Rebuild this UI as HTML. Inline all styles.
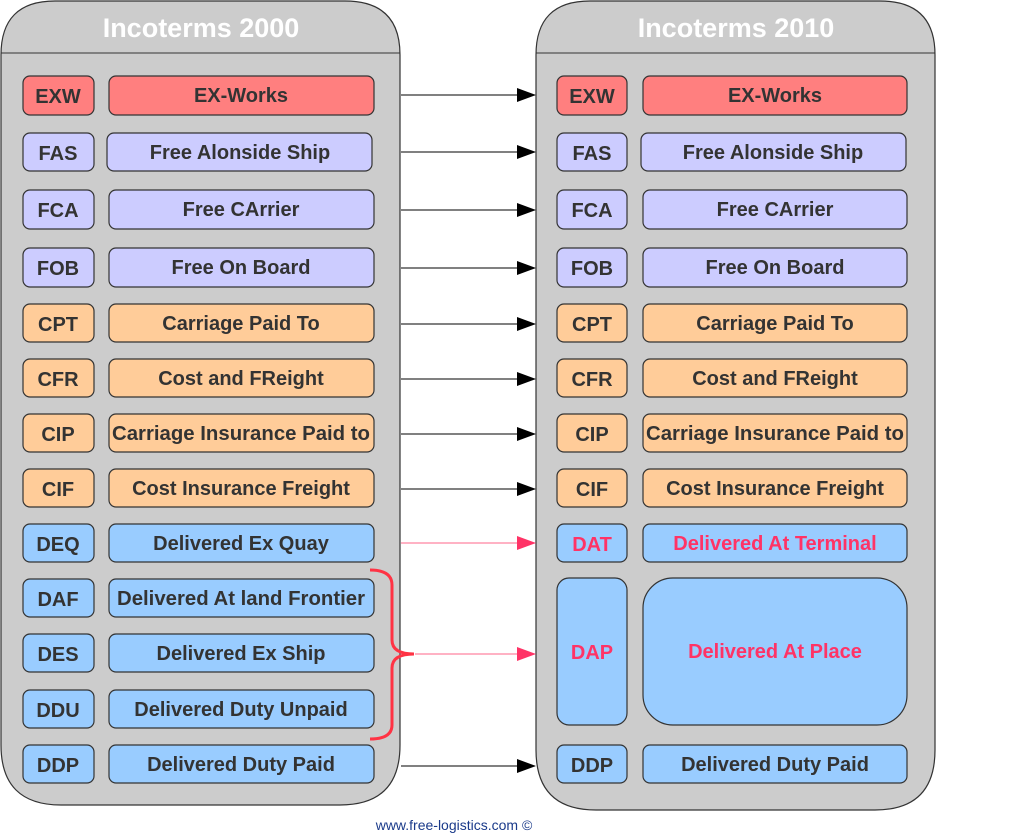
<!DOCTYPE html>
<html><head><meta charset="utf-8"><style>
html,body{margin:0;padding:0;background:#fff;}
svg{display:block}
text{font-family:"Liberation Sans",Arial,sans-serif;font-weight:bold;}
</style></head><body>
<svg width="1024" height="840" viewBox="0 0 1024 840" xmlns="http://www.w3.org/2000/svg">
<defs>
<marker id="ab" markerWidth="20" markerHeight="14" refX="18" refY="7" orient="auto" markerUnits="userSpaceOnUse"><path d="M0,0 L19,7 L0,14 z" fill="#000"/></marker>
<marker id="ap" markerWidth="20" markerHeight="14" refX="18" refY="7" orient="auto" markerUnits="userSpaceOnUse"><path d="M0,0 L19,7 L0,14 z" fill="#ff3366"/></marker>
</defs>
<g stroke="#333" stroke-width="1.2" fill="#cccccc">
<path d="M1,745 L1,55 Q1,1 55,1 L345,1 Q400,1 400,55 L400,745 Q400,805 340,805 L61,805 Q1,805 1,745 Z"/>
<path d="M536,750 L536,55 Q536,1 590,1 L880,1 Q935,1 935,55 L935,750 Q935,810 875,810 L596,810 Q536,810 536,750 Z"/>
</g>
<line x1="1" y1="53" x2="400" y2="53" stroke="#333" stroke-width="1"/>
<line x1="536" y1="53" x2="935" y2="53" stroke="#333" stroke-width="1"/>
<text x="201" y="37" font-size="27" fill="#fff" text-anchor="middle">Incoterms 2000</text>
<text x="736" y="37" font-size="27" fill="#fff" text-anchor="middle">Incoterms 2010</text>

<g stroke="#333" stroke-width="1.2">
<rect x="23" y="76" width="71" height="39" rx="7" fill="#ff7f7f"/><rect x="109" y="76" width="265" height="39" rx="7" fill="#ff7f7f"/>
<rect x="23" y="133" width="71" height="38" rx="7" fill="#ccccff"/><rect x="107" y="133" width="265" height="38" rx="7" fill="#ccccff"/>
<rect x="23" y="190" width="71" height="39" rx="7" fill="#ccccff"/><rect x="109" y="190" width="265" height="39" rx="7" fill="#ccccff"/>
<rect x="23" y="248" width="71" height="39" rx="7" fill="#ccccff"/><rect x="109" y="248" width="265" height="39" rx="7" fill="#ccccff"/>
<rect x="23" y="304" width="71" height="38" rx="7" fill="#ffcc99"/><rect x="109" y="304" width="265" height="38" rx="7" fill="#ffcc99"/>
<rect x="23" y="359" width="71" height="38" rx="7" fill="#ffcc99"/><rect x="109" y="359" width="265" height="38" rx="7" fill="#ffcc99"/>
<rect x="23" y="414" width="71" height="38" rx="7" fill="#ffcc99"/><rect x="109" y="414" width="265" height="38" rx="7" fill="#ffcc99"/>
<rect x="23" y="469" width="71" height="38" rx="7" fill="#ffcc99"/><rect x="109" y="469" width="265" height="38" rx="7" fill="#ffcc99"/>
<rect x="23" y="524" width="71" height="38" rx="7" fill="#99ccff"/><rect x="109" y="524" width="265" height="38" rx="7" fill="#99ccff"/>
<rect x="23" y="579" width="71" height="38" rx="7" fill="#99ccff"/><rect x="109" y="579" width="265" height="38" rx="7" fill="#99ccff"/>
<rect x="23" y="634" width="71" height="38" rx="7" fill="#99ccff"/><rect x="109" y="634" width="265" height="38" rx="7" fill="#99ccff"/>
<rect x="23" y="690" width="71" height="38" rx="7" fill="#99ccff"/><rect x="109" y="690" width="265" height="38" rx="7" fill="#99ccff"/>
<rect x="23" y="745" width="71" height="38" rx="7" fill="#99ccff"/><rect x="109" y="745" width="265" height="38" rx="7" fill="#99ccff"/>
<rect x="557" y="76" width="70" height="39" rx="7" fill="#ff7f7f"/><rect x="643" y="76" width="264" height="39" rx="7" fill="#ff7f7f"/>
<rect x="557" y="133" width="70" height="38" rx="7" fill="#ccccff"/><rect x="641" y="133" width="265" height="38" rx="7" fill="#ccccff"/>
<rect x="557" y="190" width="70" height="39" rx="7" fill="#ccccff"/><rect x="643" y="190" width="264" height="39" rx="7" fill="#ccccff"/>
<rect x="557" y="248" width="70" height="39" rx="7" fill="#ccccff"/><rect x="643" y="248" width="264" height="39" rx="7" fill="#ccccff"/>
<rect x="557" y="304" width="70" height="38" rx="7" fill="#ffcc99"/><rect x="643" y="304" width="264" height="38" rx="7" fill="#ffcc99"/>
<rect x="557" y="359" width="70" height="38" rx="7" fill="#ffcc99"/><rect x="643" y="359" width="264" height="38" rx="7" fill="#ffcc99"/>
<rect x="557" y="414" width="70" height="38" rx="7" fill="#ffcc99"/><rect x="643" y="414" width="264" height="38" rx="7" fill="#ffcc99"/>
<rect x="557" y="469" width="70" height="38" rx="7" fill="#ffcc99"/><rect x="643" y="469" width="264" height="38" rx="7" fill="#ffcc99"/>
<rect x="557" y="524" width="70" height="38" rx="7" fill="#99ccff"/><rect x="643" y="524" width="264" height="38" rx="7" fill="#99ccff"/>
<rect x="557" y="578" width="70" height="147" rx="12" fill="#99ccff"/><rect x="643" y="578" width="264" height="147" rx="30" fill="#99ccff"/>
<rect x="557" y="745" width="70" height="38" rx="7" fill="#99ccff"/><rect x="643" y="745" width="264" height="38" rx="7" fill="#99ccff"/>
</g>

<g font-size="20" fill="#333" text-anchor="middle">
<text x="58" y="103">EXW</text><text x="241" y="102">EX-Works</text>
<text x="58" y="160">FAS</text><text x="240" y="159">Free Alonside Ship</text>
<text x="58" y="217">FCA</text><text x="241" y="216">Free CArrier</text>
<text x="58" y="275">FOB</text><text x="241" y="274">Free On Board</text>
<text x="58" y="331">CPT</text><text x="241" y="330">Carriage Paid To</text>
<text x="58" y="386">CFR</text><text x="241" y="385">Cost and FReight</text>
<text x="58" y="441">CIP</text><text x="241" y="440" textLength="258" lengthAdjust="spacingAndGlyphs">Carriage Insurance Paid to</text>
<text x="58" y="496">CIF</text><text x="241" y="495">Cost Insurance Freight</text>
<text x="58" y="551">DEQ</text><text x="241" y="550">Delivered Ex Quay</text>
<text x="58" y="606">DAF</text><text x="241" y="605" textLength="248" lengthAdjust="spacingAndGlyphs">Delivered At land Frontier</text>
<text x="58" y="661">DES</text><text x="241" y="660">Delivered Ex Ship</text>
<text x="58" y="717">DDU</text><text x="241" y="716">Delivered Duty Unpaid</text>
<text x="58" y="772">DDP</text><text x="241" y="771">Delivered Duty Paid</text>

<text x="592" y="103">EXW</text><text x="775" y="102">EX-Works</text>
<text x="592" y="160">FAS</text><text x="773" y="159">Free Alonside Ship</text>
<text x="592" y="217">FCA</text><text x="775" y="216">Free CArrier</text>
<text x="592" y="275">FOB</text><text x="775" y="274">Free On Board</text>
<text x="592" y="331">CPT</text><text x="775" y="330">Carriage Paid To</text>
<text x="592" y="386">CFR</text><text x="775" y="385">Cost and FReight</text>
<text x="592" y="441">CIP</text><text x="775" y="440" textLength="258" lengthAdjust="spacingAndGlyphs">Carriage Insurance Paid to</text>
<text x="592" y="496">CIF</text><text x="775" y="495">Cost Insurance Freight</text>
<text x="592" y="772">DDP</text><text x="775" y="771">Delivered Duty Paid</text>
</g>
<g font-size="20" fill="#ff3366" text-anchor="middle">
<text x="592" y="551">DAT</text><text x="775" y="550">Delivered At Terminal</text>
<text x="592" y="659">DAP</text><text x="775" y="658">Delivered At Place</text>
</g>

<g stroke="#000" stroke-width="1" marker-end="url(#ab)">
<line x1="401" y1="95" x2="535" y2="95"/>
<line x1="401" y1="152" x2="535" y2="152"/>
<line x1="401" y1="210" x2="535" y2="210"/>
<line x1="401" y1="268" x2="535" y2="268"/>
<line x1="401" y1="324" x2="535" y2="324"/>
<line x1="401" y1="379" x2="535" y2="379"/>
<line x1="401" y1="434" x2="535" y2="434"/>
<line x1="401" y1="489" x2="535" y2="489"/>
<line x1="401" y1="766" x2="535" y2="766"/>
</g>
<g stroke="#ff6688" stroke-width="1" marker-end="url(#ap)">
<line x1="401" y1="543" x2="535" y2="543"/>
<line x1="415" y1="654" x2="535" y2="654"/>
</g>
<path d="M370,570 Q392,570 392,585 L392,640 Q392,654 414,654 Q392,654 392,668 L392,725 Q392,739 370,739" fill="none" stroke="#ff3344" stroke-width="3"/>

<text x="454" y="830" font-size="14" fill="#1a3a8a" text-anchor="middle" style="font-weight:normal">www.free-logistics.com ©</text>
</svg>
</body></html>
